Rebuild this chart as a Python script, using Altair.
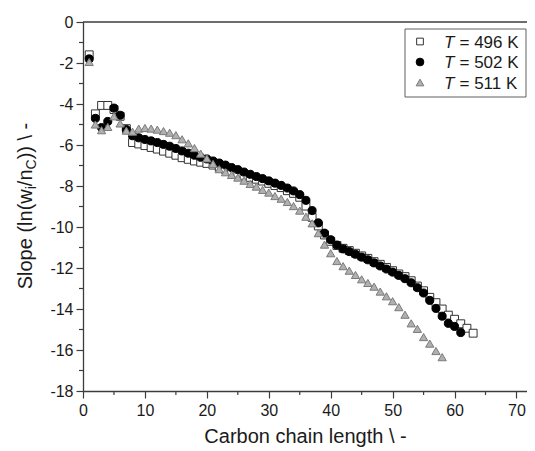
import altair as alt
import pandas as pd

FONT = "Liberation Sans"

# ---------------- data ----------------
series_labels = ["T = 496 K", "T = 502 K", "T = 511 K"]
series_values = ["= 496 K", "= 502 K", "= 511 K"]

carbon_496 = list(range(1, 64))
slope_496 = [-1.6, -4.48, -4.07, -4.07, -4.27, -4.6, -5.2, -5.88, -5.95, -6.03,
             -6.12, -6.2, -6.3, -6.4, -6.5, -6.62, -6.7, -6.78, -6.84, -6.9,
             -6.98, -7.09, -7.19, -7.3, -7.38, -7.48, -7.58, -7.67, -7.76, -7.87,
             -7.98, -8.08, -8.23, -8.36, -8.55, -8.98, -9.53, -9.95, -10.39, -10.7,
             -10.9, -11.04, -11.15, -11.28, -11.41, -11.53, -11.69, -11.82, -11.97, -12.13,
             -12.29, -12.42, -12.62, -12.88, -13.11, -13.43, -13.69, -14.0, -14.3, -14.5,
             -14.72, -14.94, -15.18]

carbon_502 = list(range(1, 62))
slope_502 = [-1.8, -4.7, -5.15, -4.85, -4.2, -4.55, -5.25, -5.55, -5.65, -5.73,
             -5.8, -5.88, -5.97, -6.06, -6.17, -6.29, -6.4, -6.5, -6.6, -6.68,
             -6.78, -6.88, -6.98, -7.1, -7.2, -7.32, -7.43, -7.54, -7.64, -7.75,
             -7.86, -7.97, -8.1, -8.24, -8.42, -8.7, -9.2, -9.8, -10.3, -10.62,
             -10.88, -11.07, -11.2, -11.33, -11.47, -11.6, -11.75, -11.9, -12.05, -12.2,
             -12.36, -12.52, -12.72, -12.96, -13.22, -13.58, -13.97, -14.35, -14.7, -14.85,
             -15.15]

carbon_511 = list(range(1, 59))
slope_511 = [-1.95, -5.0, -5.28, -5.12, -4.6, -4.95, -5.3, -5.35, -5.2, -5.17,
             -5.2, -5.25, -5.32, -5.4, -5.52, -5.72, -5.92, -6.15, -6.42, -6.65,
             -6.92, -7.18, -7.33, -7.46, -7.59, -7.74, -7.9, -8.03, -8.19, -8.32,
             -8.49, -8.62, -8.78, -8.98, -9.2, -9.5, -9.82, -10.3, -10.86, -11.28,
             -11.66, -11.91, -12.13, -12.34, -12.55, -12.73, -12.91, -13.15, -13.38, -13.62,
             -13.91, -14.28, -14.7, -14.97, -15.37, -15.69, -16.05, -16.35]

x_major = list(range(0, 80, 10))
x_minor = list(range(5, 75, 10))
y_major = list(range(-18, 1, 2))
y_minor = list(range(-17, 0, 2))

y_title_pieces = ["Slope (ln(w", "i", "/n", "C", ")) \\ -"]
y_title_is_sub = [False, True, False, True, False]

# ---------------- build table ----------------
rows = []
for lab, xs, ys in zip(series_labels,
                       [carbon_496, carbon_502, carbon_511],
                       [slope_496, slope_502, slope_511]):
    for xv, yv in zip(xs, ys):
        rows.append({"series": lab, "n": xv, "slope": yv})
df = pd.DataFrame(rows)

W, H = 444, 369
AXIS_COLOR = "#3c3c3c"
TEXT_COLOR = "#1a1a1a"
SHAPES = ["square", "circle", "triangle-up"]
FILLS = ["white", "black", "#b0b0b0"]
STROKES = ["#333333", "black", "#7a7a7a"]
SIZES = [62, 68, 85]

common = dict(grid=False, labelFont=FONT, labelFontSize=16, labelColor=TEXT_COLOR,
              domainColor=AXIS_COLOR, tickColor=AXIS_COLOR, domainWidth=1.3,
              tickWidth=1.2, labelFlush=False)

x_axis = alt.Axis(
    values=x_major, title="Carbon chain length \\ -", format="d",
    tickSize=7, labelPadding=4, titlePadding=8,
    titleFontSize=20, titleFont=FONT, titleFontWeight="normal", titleColor=TEXT_COLOR,
    **common,
)
y_axis = alt.Axis(
    values=y_major, title=None, labelExpr="'' + datum.value",
    tickSize=7, labelPadding=3, **common,
)

x_scale = alt.Scale(domain=[0, 71.7], nice=False, zero=False)
y_scale = alt.Scale(domain=[-18, 0], nice=False, zero=False)

points = alt.Chart(df).mark_point(filled=True, opacity=1, strokeWidth=1).encode(
    x=alt.X("n:Q", scale=x_scale, axis=x_axis),
    y=alt.Y("slope:Q", scale=y_scale, axis=y_axis),
    shape=alt.Shape("series:N", scale=alt.Scale(domain=series_labels, range=SHAPES), legend=None),
    fill=alt.Fill("series:N", scale=alt.Scale(domain=series_labels, range=FILLS), legend=None),
    stroke=alt.Stroke("series:N", scale=alt.Scale(domain=series_labels, range=STROKES), legend=None),
    size=alt.Size("series:N", scale=alt.Scale(domain=series_labels, range=SIZES), legend=None),
)

# minor ticks (through the shared scales; same axis definitions so axes merge cleanly)
minor_x = alt.Chart(pd.DataFrame({"mx": x_minor})).mark_tick(
    orient="vertical", size=4, thickness=1.2, color=AXIS_COLOR, opacity=1
).encode(x=alt.X("mx:Q", scale=x_scale, axis=x_axis), y=alt.value(H + 2))
minor_y = alt.Chart(pd.DataFrame({"my": y_minor})).mark_tick(
    orient="horizontal", size=4, thickness=1.2, color=AXIS_COLOR, opacity=1
).encode(y=alt.Y("my:Q", scale=y_scale, axis=y_axis), x=alt.value(-2))

# top frame line
top_line = alt.Chart(pd.DataFrame({"frame": ["top"]})).mark_rect(
    fill=AXIS_COLOR
).encode(x=alt.value(0), x2=alt.value(W), y=alt.value(-0.65), y2=alt.value(0.65))

# ---------------- hand-built legend (italic T) ----------------
BX0, BX1 = 322, 443
legend_layers = [
    alt.Chart(pd.DataFrame({"s": ["box"]})).mark_rect(
        fill="white", stroke="#606060", strokeWidth=1
    ).encode(x=alt.value(BX0), x2=alt.value(BX1), y=alt.value(7), y2=alt.value(75))
]
row_y = [19.5, 40, 60.5]
leg_sizes = [45, 60, 60]
for lab, val, shp, fl, st, sz, yy in zip(series_labels, series_values, SHAPES, FILLS,
                                         STROKES, leg_sizes, row_y):
    one = pd.DataFrame({"series": [lab], "value": [val]})
    legend_layers.append(
        alt.Chart(one).mark_point(filled=True, opacity=1, strokeWidth=1, shape=shp,
                                  fill=fl, stroke=st, size=sz)
        .encode(x=alt.value(BX0 + 15), y=alt.value(yy)))
    legend_layers.append(
        alt.Chart(one).mark_text(text="T", font=FONT, fontSize=17, fontStyle="italic",
                                 align="left", baseline="middle", color=TEXT_COLOR, dy=1)
        .encode(x=alt.value(BX0 + 39), y=alt.value(yy)))
    legend_layers.append(
        alt.Chart(one).mark_text(font=FONT, fontSize=17, align="left", baseline="middle",
                                 color=TEXT_COLOR, dy=1)
        .encode(text="value:N", x=alt.value(BX0 + 54.5), y=alt.value(yy)))

# ---------------- y-axis title built from pieces (subscripts i and C) ----------------
AW = {'S': 667, 'l': 222, 'o': 556, 'p': 556, 'e': 556, ' ': 278, '(': 333, 'n': 556,
      'w': 722, 'i': 222, '/': 278, 'C': 722, ')': 333, '\\': 278, '-': 333}
sizes = [14 if s else 20 for s in y_title_is_sub]
lengths = [sum(AW.get(ch, 556) for ch in p) * fs / 1000 for p, fs in zip(y_title_pieces, sizes)]
total = sum(lengths)
center = 184.0
pos = center + total / 2
title_layers = []
for piece, fs, ln, sub in zip(y_title_pieces, sizes, lengths, y_title_is_sub):
    layer = alt.Chart(pd.DataFrame({"t": [piece]})).mark_text(
        angle=270, align="left", baseline="alphabetic", font=FONT,
        fontSize=fs, color=TEXT_COLOR,
    ).encode(text="t:N", x=alt.value(-51 + (4 if sub else 0)), y=alt.value(pos))
    title_layers.append(layer)
    pos -= ln

chart = alt.layer(points, minor_x, minor_y, top_line, *legend_layers, *title_layers).properties(
    width=W, height=H, background="white",
    padding={"left": 75, "top": 14, "right": 0, "bottom": 58},
    autosize=alt.AutoSizeParams(type="none"),
).configure_view(stroke=None)

chart.save("out.html", embed_options={"renderer": "svg", "actions": False})
